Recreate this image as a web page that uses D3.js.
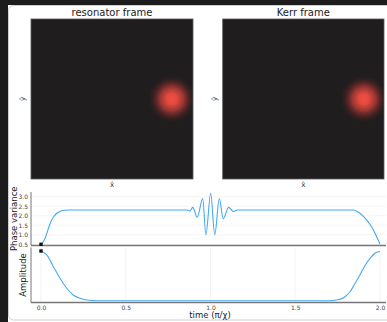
<!DOCTYPE html>
<html><head><meta charset="utf-8">
<script src="https://cdn.jsdelivr.net/npm/d3@7"></script>
<style>html,body{margin:0;padding:0;background:#fff;}svg{display:block;font-family:"DejaVu Sans",sans-serif;}</style>
</head><body><svg id="c" width="387" height="322"></svg>
<script>
// ---- data ----
const frameTitles = ["resonator frame", "Kerr frame"];
const blobX = [3.7, 3.75];
const blobY = [0, 0];
const blobR = [1.2, 1.2];
const quadDomain = [-5, 5];

const phaseT = [0, 0.012, 0.024, 0.036, 0.048, 0.063, 0.078, 0.093, 0.108, 0.122, 0.14, 0.16, 0.5, 0.86, 0.879, 0.895, 0.922, 0.954, 0.973, 1.001, 1.025, 1.052, 1.075, 1.107, 1.134, 1.16, 1.5, 1.84, 1.862, 1.882, 1.90, 1.921, 1.94, 1.961, 1.98, 2.0];
const phaseV = [0.5, 0.62, 0.82, 1.12, 1.45, 1.78, 1.98, 2.13, 2.21, 2.26, 2.29, 2.30, 2.30, 2.30, 2.25, 2.44, 1.92, 2.90, 1.00, 3.18, 1.00, 2.90, 1.84, 2.44, 2.23, 2.30, 2.30, 2.30, 2.24, 2.13, 1.98, 1.78, 1.55, 1.25, 0.9, 0.52];
const ampT = [0, 0.034, 0.073, 0.112, 0.152, 0.19, 0.23, 0.27, 0.33, 1.70, 1.745, 1.79, 1.823, 1.85, 1.882, 1.91, 1.941, 1.965, 1.985, 2.0];
const ampV = [1.0, 0.92, 0.685, 0.45, 0.25, 0.115, 0.048, 0.014, 0.0, 0.0, 0.014, 0.07, 0.18, 0.33, 0.52, 0.70, 0.85, 0.94, 0.98, 0.99];
const timeTicks = [0, 0.5, 1.0, 1.5, 2.0];
const phaseTicks = [0.5, 1.0, 1.5, 2.0, 2.5, 3.0];
const markerT = [0];
const markerPhase = [0.5];
const markerAmp = [1.0];

const svg = d3.select("#c");
// background: dark strips + card
svg.append("rect").attr("x",0).attr("y",0).attr("width",387).attr("height",322).attr("fill","#fff");
svg.append("rect").attr("x",0).attr("y",0).attr("width",8).attr("height",322).attr("fill","#1c1c1c");
svg.append("rect").attr("x",0).attr("y",0).attr("width",387).attr("height",5).attr("fill","#1c1c1c");
svg.append("rect").attr("x",8.5).attr("y",5.5).attr("width",390).attr("height",314.5).attr("rx",5)
  .attr("fill","#fff").attr("stroke","#cfcfcf").attr("stroke-width",1);

// ---- heatmaps ----
const frames = [
  {x0:31, x1:193, y0:19, y1:179},
  {x0:222.7, x1:384, y0:19, y1:179}
];
const defs = svg.append("defs");
frames.forEach((f,i)=>{
  const xs = d3.scaleLinear().domain(quadDomain).range([f.x0,f.x1]);
  const ys = d3.scaleLinear().domain(quadDomain).range([f.y1,f.y0]);
  const clipId = "clip"+i;
  defs.append("clipPath").attr("id",clipId).append("rect")
    .attr("x",f.x0).attr("y",f.y0).attr("width",f.x1-f.x0).attr("height",f.y1-f.y0);
  const g = svg.append("g");
  g.append("rect").attr("x",f.x0).attr("y",f.y0).attr("width",f.x1-f.x0).attr("height",f.y1-f.y0)
    .attr("fill","#1f1d1e");
  const gid = "blob"+i;
  const gr = defs.append("radialGradient").attr("id",gid);
  [[0,"#f04e42",1],[0.2,"#ea4b40",0.97],[0.45,"#c8403a",0.72],[0.7,"#7e2b27",0.35],[0.88,"#3a2220",0.1],[1,"#1f1d1e",0]].forEach(s=>{
    gr.append("stop").attr("offset",s[0]).attr("stop-color",s[1]).attr("stop-opacity",s[2]);
  });
  const r = xs(blobR[i]) - xs(0);
  g.append("g").attr("clip-path",`url(#${clipId})`)
    .append("circle").attr("cx",xs(blobX[i])).attr("cy",ys(blobY[i])).attr("r",r*1.35).attr("fill",`url(#${gid})`);
  g.append("rect").attr("x",f.x0).attr("y",f.y0).attr("width",f.x1-f.x0).attr("height",f.y1-f.y0)
    .attr("fill","none").attr("stroke","#5a5a5a").attr("stroke-width",0.8);
  svg.append("text").attr("x",(f.x0+f.x1)/2).attr("y",16).attr("text-anchor","middle")
    .attr("font-size",10).attr("fill","#222").text(frameTitles[i]);
  svg.append("text").attr("x",(f.x0+f.x1)/2).attr("y",187).attr("text-anchor","middle")
    .attr("font-size",7).attr("fill","#333").text("x\u0302");
  svg.append("text").attr("transform",`translate(${f.x0-6},${(f.y0+f.y1)/2}) rotate(-90)`).attr("text-anchor","middle")
    .attr("font-size",7).attr("fill","#333").text("\u0177");
});

// ---- time-series panels ----
const x = d3.scaleLinear().domain([0,2]).range([41,380]);
const plotL = 31, plotR = 386;
const yP = d3.scaleLinear().domain([0.5,3.0]).range([244.3,196.7]);
const yA = d3.scaleLinear().domain([0,1]).range([300.7,251]);
const pTop = 192, pBot = 245.5, aTop = 247.5, aBot = 302.5;
const blue = "#45a9f2";

// phase grid
svg.append("g").selectAll("line").data(phaseTicks).join("line")
  .attr("x1",plotL).attr("x2",plotR).attr("y1",d=>yP(d)).attr("y2",d=>yP(d))
  .attr("stroke","#ececec").attr("stroke-width",0.6);
// amplitude vertical grid
svg.append("g").selectAll("line").data(timeTicks).join("line")
  .attr("x1",d=>x(d)).attr("x2",d=>x(d)).attr("y1",aTop).attr("y2",aBot)
  .attr("stroke","#ececec").attr("stroke-width",0.6);

// phase axis
const axP = svg.append("g").attr("transform",`translate(${plotL},0)`)
  .call(d3.axisLeft(yP).tickValues(phaseTicks).tickFormat(d3.format(".1f")).tickSize(0).tickPadding(3));
axP.select(".domain").remove();
axP.selectAll("text").attr("font-size",6).attr("fill","#444").attr("font-family","DejaVu Sans");
svg.append("line").attr("x1",plotL).attr("x2",plotL).attr("y1",pTop).attr("y2",pBot).attr("stroke","#777").attr("stroke-width",1);
svg.append("line").attr("x1",plotL).attr("x2",plotR).attr("y1",pBot).attr("y2",pBot).attr("stroke","#777").attr("stroke-width",1.3);

// amplitude axis
const axA = svg.append("g").attr("transform",`translate(0,${aBot})`)
  .call(d3.axisBottom(x).tickValues(timeTicks).tickFormat(d3.format(".1f")).tickSize(0).tickPadding(3));
axA.select(".domain").remove();
axA.selectAll("text").attr("font-size",6).attr("fill","#444").attr("font-family","DejaVu Sans");
svg.append("line").attr("x1",plotL).attr("x2",plotL).attr("y1",aTop).attr("y2",aBot).attr("stroke","#777").attr("stroke-width",1);
svg.append("line").attr("x1",plotL).attr("x2",plotR).attr("y1",aBot).attr("y2",aBot).attr("stroke","#777").attr("stroke-width",1.3);

// lines
const lineP = d3.line().x((d,i)=>x(phaseT[i])).y(d=>yP(d)).curve(d3.curveMonotoneX);
svg.append("path").attr("d",lineP(phaseV)).attr("fill","none").attr("stroke",blue).attr("stroke-width",1.1);
const lineA = d3.line().x((d,i)=>x(ampT[i])).y(d=>yA(d)).curve(d3.curveMonotoneX);
svg.append("path").attr("d",lineA(ampV)).attr("fill","none").attr("stroke",blue).attr("stroke-width",1.1);

// markers
svg.append("g").selectAll("rect").data(markerT).join("rect")
  .attr("x",(d)=>x(d)-1.7).attr("y",(d,i)=>yP(markerPhase[i])-1.7).attr("width",3.4).attr("height",3.4).attr("fill","#111");
svg.append("g").selectAll("rect").data(markerT).join("rect")
  .attr("x",(d)=>x(d)-1.7).attr("y",(d,i)=>yA(markerAmp[i])-1.7).attr("width",3.4).attr("height",3.4).attr("fill","#111");

// labels
svg.append("text").attr("transform",`translate(17,${(pTop+pBot)/2}) rotate(-90)`).attr("text-anchor","middle")
  .attr("font-size",8.5).attr("fill","#222").text("Phase variance");
svg.append("text").attr("transform",`translate(26,${(aTop+aBot)/2}) rotate(-90)`).attr("text-anchor","middle")
  .attr("font-size",8.5).attr("fill","#222").text("Amplitude");
svg.append("text").attr("x",210).attr("y",318).attr("text-anchor","middle")
  .attr("font-size",8.5).attr("fill","#222").text("time (\u03c0/\u03c7)");
</script></body></html>
